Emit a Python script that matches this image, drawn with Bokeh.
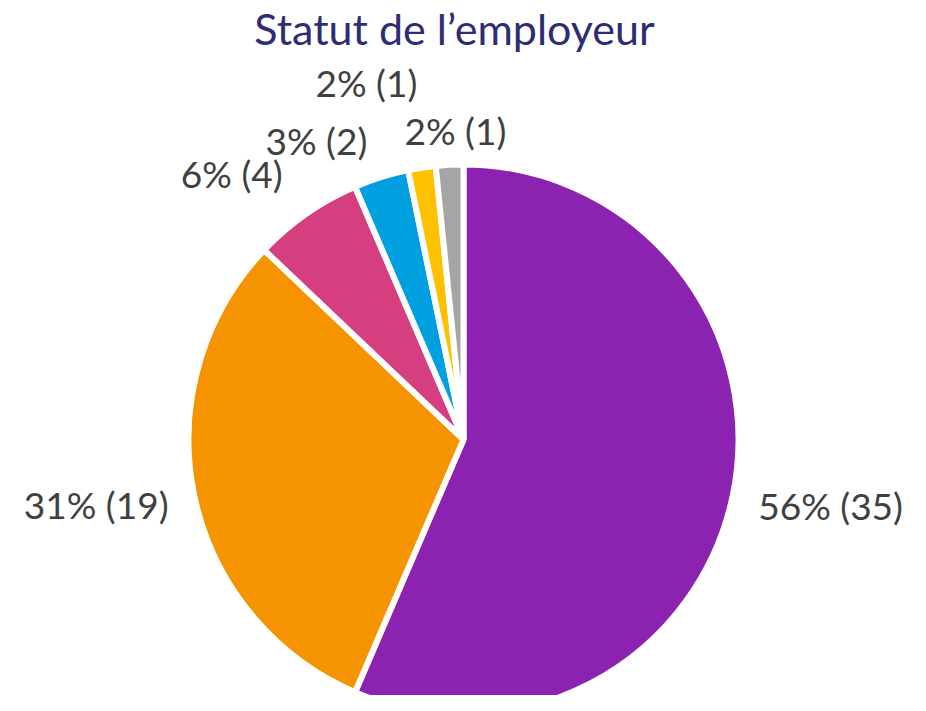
import math
from bokeh.plotting import figure
from bokeh.models import Range1d, ColumnDataSource
from bokeh.core.properties import value
from bokeh.embed import file_html
from bokeh.resources import INLINE

# ---- data ----
categories = ["A", "B", "C", "D", "E", "F"]
counts = [35, 19, 4, 2, 1, 1]
percent_labels = ["56% (35)", "31% (19)", "6% (4)", "3% (2)", "2% (1)", "2% (1)"]
title_text = "Statut de l\u2019employeur"

# ---- style / layout ----
colors = ["#8b23b0", "#f59300", "#d63f7f", "#00a0e0", "#ffc000", "#a5a5a5"]
label_dist = [373, 373, 353, 333, 370, 309]
label_shift_deg = [-1.4, 1.6, -6.2, -8.8, -6.5, 1.4]

W, H = 910, 695
cx, cy, R = 463, H - 439, 275

total = sum(counts)
starts, ends, lx, ly = [], [], [], []
cum = 0
for i, c in enumerate(counts):
    a0 = math.pi / 2 - 2 * math.pi * cum / total
    a1 = math.pi / 2 - 2 * math.pi * (cum + c) / total
    starts.append(a0)
    ends.append(a1)
    mid_deg = 360 * (cum + c / 2) / total + label_shift_deg[i]  # clockwise from top
    m = math.radians(mid_deg)
    lx.append(cx + label_dist[i] * math.sin(m))
    ly.append(cy + label_dist[i] * math.cos(m))
    cum += c

src = ColumnDataSource(dict(cat=categories, start=starts, end=ends, color=colors,
                            lx=lx, ly=ly, label=percent_labels))

p = figure(width=W, height=H, x_range=Range1d(0, W), y_range=Range1d(0, H),
           output_backend="svg", toolbar_location=None, min_border=0)
p.axis.visible = False
p.grid.visible = False
p.outline_line_color = None
p.background_fill_color = "white"

p.wedge(x=cx, y=cy, radius=R, start_angle="start", end_angle="end", direction="clock",
        fill_color="color", line_color="white", line_width=6, source=src)

p.text(x="lx", y="ly", text="label", source=src, text_align="center", text_baseline="middle",
       text_font=value("Lato"), text_font_size="37px", text_color="#404040")

p.text(x=[454], y=[H - 28], text=[title_text], text_align="center", text_baseline="middle",
       text_font=value("Lato"), text_font_size="43px", text_color="#2e2d74")

open("out.html", "w").write(file_html(p, INLINE))
